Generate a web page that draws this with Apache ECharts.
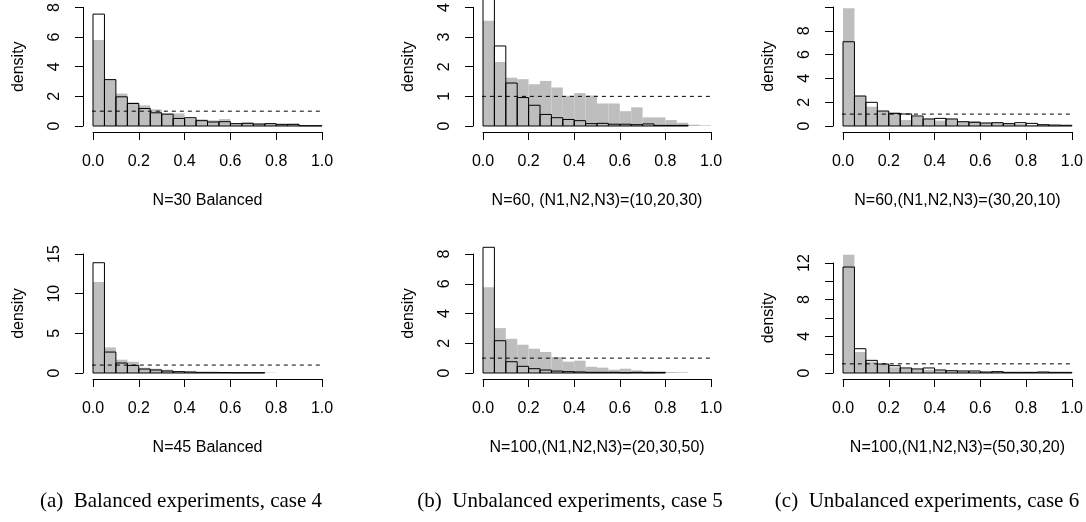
<!DOCTYPE html>
<html><head><meta charset="utf-8">
<script src="https://cdn.jsdelivr.net/npm/echarts@6/dist/echarts.min.js"></script>
<style>html,body{margin:0;padding:0;background:#fff}#c{width:1086px;height:522px}</style>
</head><body><div id="c"></div>
<script>
// ---- data ----
const binEdges = [0,0.05,0.1,0.15,0.2,0.25,0.3,0.35,0.4,0.45,0.5,0.55,0.6,0.65,0.7,0.75,0.8,0.85,0.9,0.95,1.0];
const xTickLabels = ['0.0','0.2','0.4','0.6','0.8','1.0'];
const refLineY = 1;
const refLineX = [-0.04, 1.04];

// top-left: N=30 Balanced
const a1Gray = [5.81,3.13,2.19,1.59,1.39,1.12,0.85,0.85,0.51,0.45,0.38,0.47,0.18,0.25,0.18,0.18,0.18,0.16,0.03,0.01];
const a1Hist = [7.55,3.13,1.97,1.52,1.18,0.89,0.80,0.51,0.56,0.36,0.27,0.29,0.16,0.18,0.13,0.16,0.09,0.11,0.02,0.02];
// top-middle
const b1Gray = [3.55,2.16,1.63,1.58,1.41,1.52,1.30,1.02,1.11,1.03,0.76,0.76,0.50,0.63,0.29,0.29,0.20,0.11,0.045,0.02];
const b1Hist = [4.3,2.70,1.45,0.96,0.70,0.39,0.28,0.22,0.18,0.08,0.09,0.06,0.06,0.045,0.07,0.02,0.02,0.02];
// top-right
const c1Gray = [9.9,2.52,1.62,1.26,1.15,0.50,0.78,0.59,0.45,0.59,0.36,0.42,0.28,0.25,0.17,0.17,0.08,0.11,0.06,0.06];
const c1Hist = [7.08,2.52,1.99,1.26,1.06,1.01,0.84,0.59,0.64,0.59,0.36,0.31,0.25,0.28,0.20,0.28,0.22,0.11,0.08,0.06];
// bottom-left: N=45 Balanced
const a2Gray = [11.48,3.23,1.68,1.42,0.67,0.54,0.42,0.21,0.17,0.13,0.08,0.08,0.04,0.04,0.04,0.04];
const a2Hist = [13.9,2.64,1.26,0.96,0.50,0.38,0.25,0.17,0.13,0.08,0.08,0.06,0.04,0.04,0.04];
// bottom-middle
const b2Gray = [5.77,3.02,2.30,1.90,1.63,1.41,1.07,0.76,0.83,0.42,0.36,0.22,0.29,0.18,0.13,0.11,0.07,0.045];
const b2Hist = [8.45,2.17,0.76,0.45,0.29,0.20,0.13,0.09,0.07,0.045,0.045,0.045,0.02,0.045,0.02,0.03];
// bottom-right
const c2Gray = [12.9,2.29,1.24,0.98,0.62,0.51,0.40,0.36,0.29,0.22,0.18,0.15,0.11,0.15,0.07,0.07,0.07,0.11,0.05,0.04];
const c2Hist = [11.56,2.65,1.38,0.98,0.80,0.55,0.44,0.55,0.33,0.25,0.22,0.22,0.11,0.15,0.07,0.07,0.07,0.11,0.07,0.07];

const panelTitles = [
  'N=30 Balanced',
  'N=60, (N1,N2,N3)=(10,20,30)',
  'N=60,(N1,N2,N3)=(30,20,10)',
  'N=45 Balanced',
  'N=100,(N1,N2,N3)=(20,30,50)',
  'N=100,(N1,N2,N3)=(50,30,20)'
];
const captions = [
  '(a)  Balanced experiments, case 4',
  '(b)  Unbalanced experiments, case 5',
  '(c)  Unbalanced experiments, case 6'
];

// ---- layout / axis config ----
const panels = [
  {gray:a1Gray, hist:a1Hist, grid:{left:93, top:7, width:229, height:119}, yMax:8, yInt:2, hide:[]},
  {gray:b1Gray, hist:b1Hist, grid:{left:483, top:7, width:228, height:119}, yMax:4, yInt:1, hide:[]},
  {gray:c1Gray, hist:c1Hist, grid:{left:843, top:7, width:229, height:119}, yMax:10, yInt:2, hide:[10]},
  {gray:a2Gray, hist:a2Hist, grid:{left:93, top:254, width:229, height:119}, yMax:15, yInt:5, hide:[]},
  {gray:b2Gray, hist:b2Hist, grid:{left:483, top:254, width:228, height:119}, yMax:8, yInt:2, hide:[]},
  {gray:c2Gray, hist:c2Hist, grid:{left:843, top:263, width:229, height:110}, yMax:12, yInt:2, hide:[2,6,10]}
];

const SANS = '"Liberation Sans", Arial, Helvetica, sans-serif';
const SERIF = '"Liberation Serif", "Times New Roman", serif';

function toBins(h){ return h.map((v,i)=>[binEdges[i], binEdges[i+1], v]); }

function makeRender(isGray){
  return function(params, api){
    const p0 = api.coord([api.value(0), 0]);
    const p1 = api.coord([api.value(1), api.value(2)]);
    return {
      type:'rect',
      shape:{x:p0[0], y:p1[1], width:p1[0]-p0[0], height:p0[1]-p1[1]},
      style: isGray ? {fill:'#bebebe', stroke:null} : {fill:'none', stroke:'#000', lineWidth:1}
    };
  };
}

const grids=[], xAxes=[], yAxes=[], series=[];
panels.forEach((p,i)=>{
  grids.push(Object.assign({containLabel:false}, p.grid));
  xAxes.push({
    type:'value', gridIndex:i, min:0, max:1, interval:0.2, offset:6,
    axisLine:{show:true, onZero:false, lineStyle:{color:'#000', width:1}},
    axisTick:{show:true, length:8, lineStyle:{color:'#000', width:1}},
    axisLabel:{fontSize:16, color:'#000', fontFamily:SANS, margin:22,
      formatter:(v)=>xTickLabels[Math.round(v/0.2)]},
    splitLine:{show:false},
    name:panelTitles[i], nameLocation:'middle', nameGap:61,
    nameTextStyle:{fontSize:16, color:'#000', fontFamily:SANS}
  });
  yAxes.push({
    type:'value', gridIndex:i, min:0, max:p.yMax, interval:p.yInt, offset:10,
    axisLine:{show:true, onZero:false, lineStyle:{color:'#000', width:1}},
    axisTick:{show:true, length:8, lineStyle:{color:'#000', width:1}},
    axisLabel:{fontSize:16, color:'#000', fontFamily:SANS, margin:20, rotate:90,
      formatter:(v)=> p.hide.indexOf(v)>=0 ? '' : String(v)},
    splitLine:{show:false},
    name:'density', nameLocation:'middle', nameGap:56,
    nameTextStyle:{fontSize:16, color:'#000', fontFamily:SANS}
  });
  series.push({
    type:'custom', xAxisIndex:i, yAxisIndex:i, clip:false, silent:true,
    encode:{x:[0,1], y:2}, renderItem:makeRender(true), data:toBins(p.gray), z:1
  });
  series.push({
    type:'custom', xAxisIndex:i, yAxisIndex:i, clip:false, silent:true,
    encode:{x:[0,1], y:2}, renderItem:makeRender(false), data:toBins(p.hist), z:2
  });
  series.push({
    type:'line', xAxisIndex:i, yAxisIndex:i, clip:false, silent:true, symbol:'none',
    data:[[refLineX[0], refLineY],[refLineX[1], refLineY]],
    lineStyle:{color:'#000', width:1, type:[4,4]}, z:3
  });
});

const capX = [181, 570, 927];
const graphic = captions.map((t,i)=>({
  type:'text', x:capX[i], y:501, silent:true,
  style:{text:t, font:'21px '+SERIF, fill:'#000', textAlign:'center', textVerticalAlign:'middle'}
}));

const chart = echarts.init(document.getElementById('c'), null, {renderer:'canvas'});
chart.setOption({
  animation:false,
  backgroundColor:'#fff',
  grid:grids, xAxis:xAxes, yAxis:yAxes, series:series, graphic:graphic
});
</script>
</body></html>
